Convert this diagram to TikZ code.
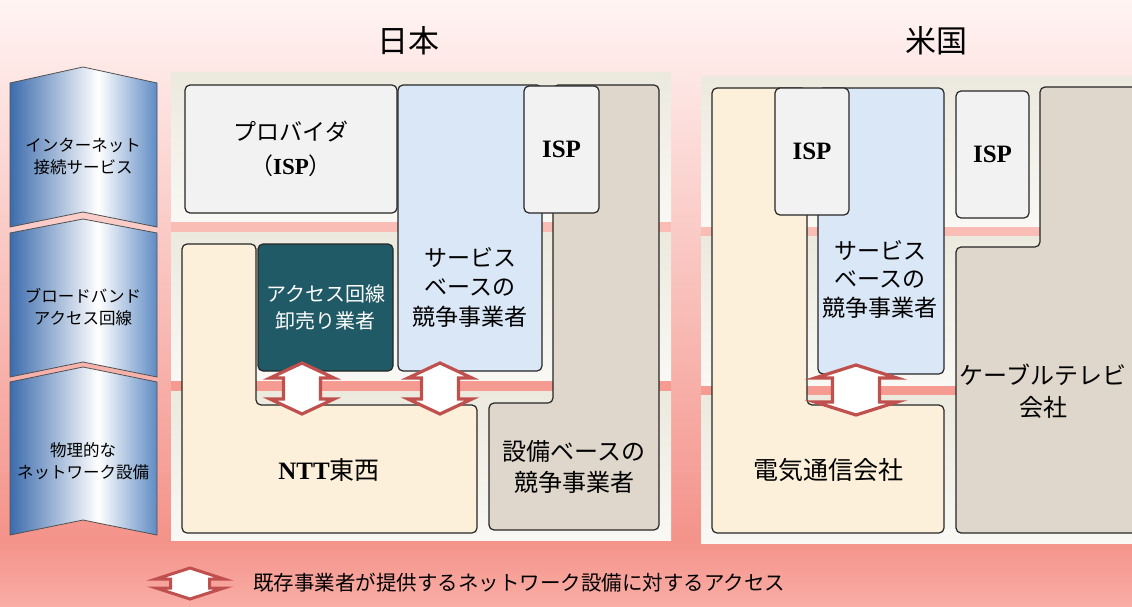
\documentclass[tikz,border=0pt]{standalone}
\usepackage{fontspec}
\setmainfont{Noto Sans CJK JP}
\newfontfamily\tms{Liberation Serif}
\definecolor{bgtop}{HTML}{FFF4F3}
\definecolor{bgmid}{HTML}{F4938A}
\definecolor{bgbot}{HTML}{F9AEA6}
\definecolor{pnlTop}{HTML}{ECE9DE}
\definecolor{pnlBot}{HTML}{F9F8F4}
\definecolor{bandA}{HTML}{FABDB6}
\definecolor{bandB}{HTML}{F69B91}
\definecolor{grayb}{HTML}{F2F2F2}
\definecolor{blueb}{HTML}{DAE7F6}
\definecolor{tealb}{HTML}{215A67}
\definecolor{beigeb}{HTML}{FCF0DA}
\definecolor{tanb}{HTML}{DFD7CB}
\definecolor{bordc}{HTML}{262626}
\definecolor{arrc}{HTML}{C0504D}
\definecolor{chevL}{HTML}{3C6CAD}
\definecolor{chevR}{HTML}{5F8BC4}
\pgfdeclarehorizontalshading{chev}{100bp}{color(0bp)=(chevL); color(25bp)=(chevL); color(55bp)=(white); color(75bp)=(chevR); color(100bp)=(chevR)}
\newcommand\dblarr[6]{\draw[arrst] (#1,#2) -- (#1+#4,#2+#6) -- (#1+#5,#2+#6) -- (#1+#5,#3-#6) -- (#1+#4,#3-#6) -- (#1,#3) -- (#1-#4,#3-#6) -- (#1-#5,#3-#6) -- (#1-#5,#2+#6) -- (#1-#4,#2+#6) -- cycle;}
\begin{document}
\begin{tikzpicture}[x=1pt,y=-1pt,
  box/.style={draw=bordc, line width=1.2pt, rounded corners=5pt, inner sep=0pt, align=center},
  lshape/.style={draw=bordc, line width=1.2pt, rounded corners=5pt},
  chevshape/.style={shading=chev, draw=bordc!80, line width=0.8pt},
  chevtxt/.style={align=center, font=\fontsize{16.5}{22}\selectfont},
  lbl/.style={align=center, font=\fontsize{23}{30}\selectfont},
  isp/.style={font=\tms\bfseries\fontsize{25}{30}\selectfont},
  arrst/.style={draw=arrc, fill=white, line width=3.2pt, line join=miter},
  legarr/.style={draw=arrc, fill=white, line width=3pt, line join=miter}]
\useasboundingbox (0,0) rectangle (1132,607);
\clip (0,0) rectangle (1132,607);
% background
\shade[top color=bgtop, bottom color=bgmid] (0,0) rectangle (1132,541);
\shade[top color=bgmid, bottom color=bgbot] (0,541) rectangle (1132,607);
% panels Japan
\shade[top color=pnlTop, bottom color=pnlBot] (171,73) rectangle (671,222);
\shade[top color=pnlTop, bottom color=pnlBot] (171,232) rectangle (671,381);
\shade[top color=pnlTop, bottom color=pnlBot] (171,391) rectangle (671,540);
\fill[bandA] (171,222) rectangle (671,232);
\fill[bandB] (171,381) rectangle (671,391);
% panels US
\shade[top color=pnlTop, bottom color=pnlBot] (701,77) rectangle (1132,227);
\shade[top color=pnlTop, bottom color=pnlBot] (701,236) rectangle (1132,386);
\shade[top color=pnlTop, bottom color=pnlBot] (701,395) rectangle (1132,543);
\fill[bandA] (701,227) rectangle (1132,236);
\fill[bandB] (701,386) rectangle (1132,395);
% titles
\node[font=\fontsize{31}{36}\selectfont] (tjp) at (408,41) {日本};
\node[font=\fontsize{31}{36}\selectfont] (tus) at (936,41) {米国};
% chevrons
\shadedraw[chevshape] (10,83) -- (83,67) -- (157,83) -- (157,227) -- (83,212) -- (10,227) -- cycle;
\shadedraw[chevshape] (10,233) -- (83,219) -- (157,233) -- (157,377) -- (83,362) -- (10,377) -- cycle;
\shadedraw[chevshape] (10,382) -- (83,367) -- (157,382) -- (157,535) -- (83,520) -- (10,535) -- cycle;
\node[chevtxt] (c1) at (83,156) {インターネット\\接続サービス};
\node[chevtxt] (c2) at (83,307) {ブロードバンド\\アクセス回線};
\node[chevtxt] (c3) at (83,461) {物理的な\\ネットワーク設備};
% Japan boxes
\draw[lshape, fill=beigeb] (182,244) -- (256,244) -- (256,405) -- (477,405) -- (477,533) -- (182,533) -- cycle;
\draw[lshape, fill=tanb] (553,85) -- (659,85) -- (659,530) -- (489,530) -- (489,403) -- (553,403) -- cycle;
\node[lbl, font=\fontsize{25}{30}\selectfont] (ntt) at (329,470) {{\tms\bfseries NTT}東西};
\node[lbl, font=\fontsize{24}{31}\selectfont] (fac) at (574,467) {設備ベースの\\競争事業者};
\node[box, fill=grayb, minimum width=212pt, minimum height=128pt, font=\fontsize{23}{34}\selectfont] (prov) at (291,149) {プロバイダ\\（{\tms\bfseries ISP}）};
\node[box, fill=blueb, minimum width=144pt, minimum height=286pt] (svcjp) at (470,228) {};
\node[lbl, font=\fontsize{23}{29.5}\selectfont] (svcjpt) at (470,287) {サービス\\ベースの\\競争事業者};
\node[box, fill=grayb, minimum width=75pt, minimum height=127pt, isp] (ispjp) at (561.5,149.5) {ISP};
\node[box, fill=tealb, text=white, minimum width=135pt, minimum height=127pt, font=\fontsize{20}{27}\selectfont] (whl) at (325.5,307.5) {アクセス回線\\卸売り業者};
\dblarr{302}{363}{414}{32}{18.5}{15}
\dblarr{440}{363}{414}{32}{18.5}{15}
% US boxes
\draw[lshape, fill=beigeb] (712,88) -- (807,88) -- (807,405) -- (944,405) -- (944,533) -- (712,533) -- cycle;
\node[lbl, font=\fontsize{25}{30}\selectfont] (tel) at (828,470) {電気通信会社};
\node[box, fill=blueb, minimum width=126pt, minimum height=286pt] (svcus) at (881,231) {};
\node[lbl, font=\fontsize{23}{28.5}\selectfont] (svcust) at (880,279) {サービス\\ベースの\\競争事業者};
\node[box, fill=grayb, minimum width=74pt, minimum height=127pt, isp] (isp1) at (812,151.5) {ISP};
\draw[lshape, fill=tanb] (1040,87) -- (1160,87) -- (1160,533) -- (956,533) -- (956,247) -- (1040,247) -- cycle;
\node[lbl, font=\fontsize{24}{32}\selectfont] (cab) at (1043,391) {ケーブルテレビ\\会社};
\node[box, fill=grayb, minimum width=73pt, minimum height=127pt, isp] (isp2) at (992.5,154.5) {ISP};
\dblarr{856}{365}{415}{41}{23.5}{13}
% legend
\begin{scope}[arrst/.style={legarr}]
\dblarr{190}{568}{599}{34}{19.5}{11}
\end{scope}
\node[anchor=west, inner sep=0pt, font=\fontsize{20.5}{24}\selectfont] (leg) at (253,583) {既存事業者が提供するネットワーク設備に対するアクセス};
\end{tikzpicture}
\end{document}
